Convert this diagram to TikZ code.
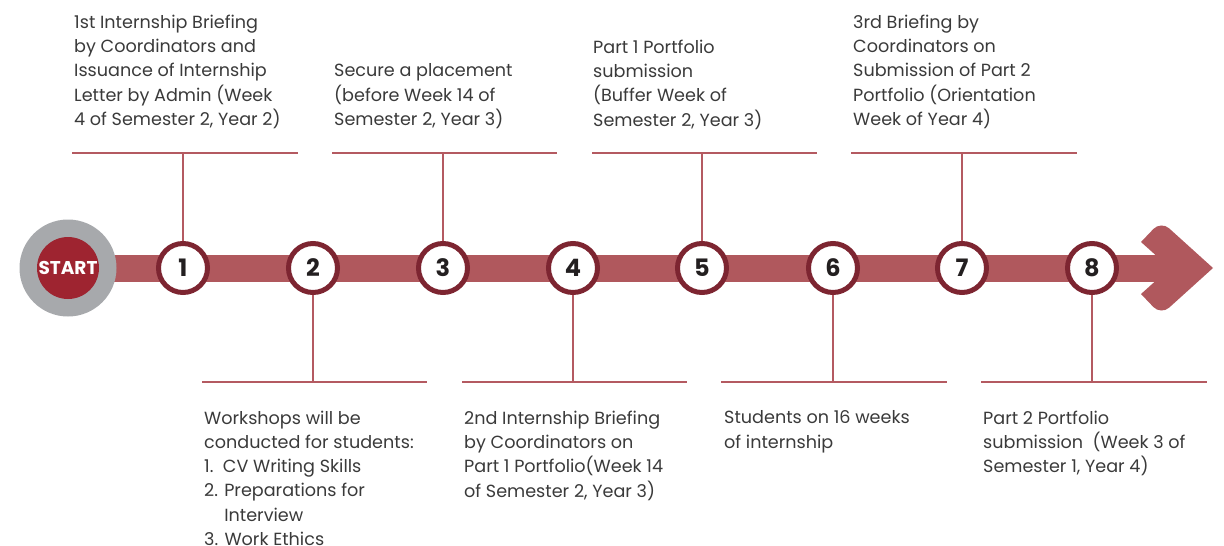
\documentclass[tikz,border=0pt]{standalone}
\usepackage{fontspec}
\setmainfont{Poppins}
\definecolor{barred}{HTML}{B0585D}
\definecolor{ringred}{HTML}{7D2531}
\definecolor{startred}{HTML}{9E2430}
\definecolor{startgrey}{HTML}{A7A9AC}
\definecolor{linered}{HTML}{B45A61}
\definecolor{infotext}{HTML}{3A3A3A}
\definecolor{numtext}{HTML}{231F20}
\begin{document}
\begin{tikzpicture}[x=1pt,y=-1pt,
  stepnum/.style={circle,draw=ringred,line width=5pt,fill=white,minimum size=49pt,inner sep=0pt,
    text=numtext,font=\fontsize{24}{24}\selectfont\bfseries},
  info/.style={anchor=north west,align=left,inner sep=0pt,text=infotext,
    font=\fontsize{17.6}{24.3}\selectfont},
  tick/.style={draw=linered,line width=2pt}]
\useasboundingbox (0,0) rectangle (1224,546);
% bar and arrow head
\fill[barred] (100,254.5) rectangle (1180,281.5);
\fill[barred] (1141,242) [rounded corners=11pt] -- (1161,221) [sharp corners] -- (1213,268)
  [rounded corners=11pt] -- (1161,315) [sharp corners] -- (1141,294) -- (1170,268) -- cycle;
% start
\node[circle,fill=startgrey,minimum size=97pt,inner sep=0pt] (startring) at (68,268) {};
\node[circle,fill=startred,minimum size=62pt,inner sep=0pt,text=white,
  font=\fontsize{18.5}{18.5}\selectfont\bfseries] (start) at (68,268) {START};
% tick lines
\coordinate (t1) at (183,153); \coordinate (t3) at (443,153);
\coordinate (t5) at (702,153); \coordinate (t7) at (962,153);
\coordinate (t2) at (313,382); \coordinate (t4) at (573,382);
\coordinate (t6) at (833,382); \coordinate (t8) at (1092,382);
\draw[tick] (72,153) -- (298,153);
\draw[tick] (332,153) -- (557,153);
\draw[tick] (592,153) -- (817,153);
\draw[tick] (851,153) -- (1077,153);
\draw[tick] (202,382) -- (427,382);
\draw[tick] (462,382) -- (687,382);
\draw[tick] (721,382) -- (947,382);
\draw[tick] (981,382) -- (1207,382);
% steps
\foreach \n/\x in {1/183,2/313,3/443,4/573,5/702,6/833,7/962,8/1092}
  \node[stepnum] (s\n) at (\x,268) {\n};
\foreach \n in {1,3,5,7} \draw[tick] (s\n.north) -- (t\n);
\foreach \n in {2,4,6,8} \draw[tick] (s\n.south) -- (t\n);
% texts
\node[info] (txt1) at (74,14.5) {1st Internship Briefing\\by Coordinators and\\Issuance of Internship\\Letter by Admin (Week\\4 of Semester 2, Year 2)};
\node[info] (txt3) at (334,63.5) {Secure a placement\\(before Week 14 of\\Semester 2, Year 3)};
\node[info] (txt5) at (593,39.5) {Part 1 Portfolio\\submission\\(Buffer Week of\\Semester 2, Year 3)};
\node[info] (txt7) at (853,14.5) {3rd Briefing by\\Coordinators on\\Submission of Part 2\\Portfolio (Orientation\\Week of Year 4)};
\node[info] (txt2) at (204,410.5) {Workshops will be\\conducted for students:\\1.\ \ CV Writing Skills\\2. Preparations for\\\phantom{2. }Interview\\3. Work Ethics};
\node[info] (txt4) at (464,410.5) {2nd Internship Briefing\\by Coordinators on\\Part 1 Portfolio(Week 14\\of Semester 2, Year 3)};
\node[info] (txt6) at (724,410.5) {Students on 16 weeks\\of internship};
\node[info] (txt8) at (983,410.5) {Part 2 Portfolio\\submission\ \ (Week 3 of\\Semester 1, Year 4)};
\end{tikzpicture}
\end{document}
